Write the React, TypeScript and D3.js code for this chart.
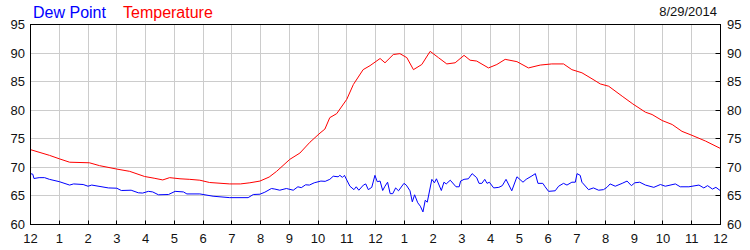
import React from "react";
import * as d3 from "d3";

const tempHours = [0, 0.33, 0.66, 1.0, 1.36, 2.05, 2.4, 3.0, 3.45, 3.97, 4.3, 4.6, 4.84, 5.2, 5.54, 5.89, 6.23, 6.93, 7.3, 7.63, 7.98, 8.3, 8.56, 9.02, 9.37, 9.72, 10.07, 10.24, 10.41, 10.65, 11.0, 11.23, 11.57, 11.81, 12.16, 12.33, 12.62, 12.85, 13.09, 13.32, 13.61, 13.9, 14.19, 14.48, 14.77, 15.08, 15.29, 15.52, 15.93, 16.22, 16.51, 16.92, 17.32, 17.73, 18.13, 18.54, 18.83, 19.18, 19.53, 19.82, 20.11, 20.58, 20.95, 21.39, 21.62, 21.97, 22.32, 22.66, 23.01, 23.48, 24];
const tempValues = [73.1, 72.6, 72.1, 71.5, 70.9, 70.8, 70.3, 69.7, 69.3, 68.4, 68.1, 67.8, 68.2, 68.0, 67.9, 67.75, 67.35, 67.1, 67.1, 67.3, 67.6, 68.3, 69.3, 71.4, 72.5, 74.4, 76.0, 76.7, 78.7, 79.4, 81.9, 84.5, 87.1, 87.8, 89.05, 88.3, 89.75, 89.9, 89.2, 87.1, 88.0, 90.3, 89.2, 88.1, 88.3, 89.6, 88.75, 88.6, 87.4, 88.0, 88.9, 88.5, 87.4, 87.9, 88.1, 88.1, 87.1, 86.55, 85.5, 84.6, 84.2, 82.45, 81.1, 79.65, 79.25, 78.2, 77.5, 76.3, 75.6, 74.6, 73.3];

const dewHours = [0, 0.08, 0.12, 0.3, 0.49, 0.66, 1.0, 1.36, 1.5, 1.83, 2.0, 2.13, 2.71, 3.0, 3.16, 3.5, 3.75, 3.9, 4.1, 4.25, 4.45, 4.8, 5.03, 5.32, 5.44, 5.89, 6.35, 6.93, 7.57, 7.75, 7.98, 8.15, 8.38, 8.5, 8.67, 8.9, 9.14, 9.3, 9.42, 9.57, 9.7, 9.87, 10.1, 10.25, 10.41, 10.53, 10.7, 10.76, 10.85, 10.92, 11.11, 11.25, 11.33, 11.42, 11.58, 11.66, 11.75, 11.87, 11.98, 12.06, 12.16, 12.25, 12.33, 12.42, 12.51, 12.6, 12.7, 12.8, 12.99, 13.07, 13.2, 13.28, 13.36, 13.47, 13.56, 13.65, 13.73, 13.8, 13.96, 14.05, 14.12, 14.29, 14.38, 14.46, 14.6, 14.8, 14.91, 14.96, 15.08, 15.23, 15.36, 15.52, 15.6, 15.7, 15.8, 15.88, 15.96, 16.11, 16.29, 16.41, 16.54, 16.74, 16.92, 17.13, 17.24, 17.44, 17.56, 17.65, 17.82, 17.9, 18.02, 18.25, 18.37, 18.54, 18.66, 18.83, 18.95, 19.01, 19.12, 19.18, 19.41, 19.58, 19.76, 19.93, 20.05, 20.16, 20.34, 20.58, 20.75, 20.9, 21.02, 21.19, 21.39, 21.68, 21.91, 22.08, 22.43, 22.6, 22.9, 23.25, 23.42, 23.55, 23.72, 23.84, 24];
const dewValues = [68.9, 68.8, 68.05, 68.2, 68.2, 67.9, 67.5, 66.9, 67.1, 67.0, 66.7, 66.9, 66.4, 66.35, 65.95, 66.0, 65.55, 65.5, 65.8, 65.7, 65.2, 65.25, 65.8, 65.7, 65.35, 65.35, 64.95, 64.7, 64.7, 65.25, 65.3, 65.65, 66.3, 66.2, 66.0, 66.3, 66.0, 66.6, 66.45, 66.95, 66.9, 67.3, 67.6, 67.55, 67.9, 68.45, 68.35, 68.6, 68.25, 68.6, 66.7, 66.1, 66.6, 66.0, 66.9, 67.1, 66.1, 66.5, 68.6, 67.5, 67.6, 65.95, 66.7, 67.4, 65.4, 65.4, 66.4, 65.9, 67.2, 66.9, 65.9, 63.97, 65.2, 63.8, 63.2, 62.2, 64.25, 63.9, 67.9, 67.3, 68.0, 65.95, 67.4, 67.1, 67.75, 66.6, 66.6, 67.6, 67.9, 68.0, 68.9, 68.2, 67.2, 67.2, 67.9, 67.2, 67.4, 66.4, 66.5, 66.8, 67.9, 65.9, 68.35, 67.4, 67.9, 68.5, 68.9, 67.2, 67.2, 66.6, 65.8, 65.9, 66.7, 67.2, 66.9, 67.4, 67.4, 68.9, 68.6, 67.4, 66.1, 66.4, 66.0, 66.1, 66.5, 67.1, 66.7, 67.2, 67.6, 66.8, 67.3, 67.4, 66.9, 66.5, 67.0, 66.7, 67.1, 66.6, 66.6, 66.9, 66.4, 66.8, 66.2, 66.5, 65.9];

const hourTicks = [0, 1, 2, 3, 4, 5, 6, 7, 8, 9, 10, 11, 12, 13, 14, 15, 16, 17, 18, 19, 20, 21, 22, 23, 24];
const hourLabels = ["12", "1", "2", "3", "4", "5", "6", "7", "8", "9", "10", "11", "12", "1", "2", "3", "4", "5", "6", "7", "8", "9", "10", "11", "12"];
const tempTicks = [60, 65, 70, 75, 80, 85, 90, 95];
const seriesNames = ["Dew Point", "Temperature"];
const dateLabel = "8/29/2014";

const W = 750;
const H = 250;
const L = 30.5;
const R = 720.5;
const T = 24.5;
const B = 224.5;
const FONT = "Arial, 'Liberation Sans', sans-serif";

export default function App() {
  const x = d3.scaleLinear().domain([0, 24]).range([L, R]);
  const y = d3.scaleLinear().domain([60, 95]).range([B, T]);
  const px = (v: number) => Math.round(x(v) - 0.5) + 0.5;
  const py = (v: number) => Math.round(y(v) - 0.5) + 0.5;

  const line = d3
    .line<[number, number]>()
    .x((d) => x(d[0]))
    .y((d) => y(d[1]));

  const tempPts = tempHours.map((h, i) => [h, tempValues[i]] as [number, number]);
  const dewPts = dewHours.map((h, i) => [h, dewValues[i]] as [number, number]);

  return (
    <svg width={W} height={H} style={{ position: "absolute", left: 0, top: 0, background: "#fff" }} fontFamily={FONT}>
      <rect x={0} y={0} width={W} height={H} fill="#fff" />
      {/* grid */}
      {hourTicks.slice(1, -1).map((h) => (
        <line key={"gx" + h} x1={px(h)} x2={px(h)} y1={T} y2={B} stroke="#cccccc" strokeWidth={1} />
      ))}
      {tempTicks.slice(1, -1).map((t) => (
        <line key={"gy" + t} x1={L} x2={R} y1={py(t)} y2={py(t)} stroke="#cccccc" strokeWidth={1} />
      ))}
      {/* ticks */}
      {hourTicks.map((h) => (
        <line key={"tx" + h} x1={px(h)} x2={px(h)} y1={B} y2={B - 4} stroke="#000" strokeWidth={1} />
      ))}
      {tempTicks.map((t) => (
        <line key={"ty" + t} x1={R} x2={R - 5} y1={py(t)} y2={py(t)} stroke="#000" strokeWidth={1} />
      ))}
      {/* series */}
      <path d={line(dewPts) || ""} fill="none" stroke="#0000ff" strokeWidth={1} />
      <path d={line(tempPts) || ""} fill="none" stroke="#ff0000" strokeWidth={1} />
      {/* frame */}
      <rect x={L} y={T} width={R - L} height={B - T} fill="none" stroke="#000" strokeWidth={1} />
      {/* y labels */}
      {tempTicks.map((t) => (
        <text key={"ly" + t} x={25} y={y(t)} dy="0.35em" textAnchor="end" fontSize={13} fill="#111">
          {t}
        </text>
      ))}
      {tempTicks.map((t) => (
        <text key={"ry" + t} x={727} y={y(t)} dy="0.35em" textAnchor="start" fontSize={13} fill="#111">
          {t}
        </text>
      ))}
      {/* x labels */}
      {hourTicks.map((h, i) => (
        <text key={"lx" + h} x={x(h)} y={243} textAnchor="middle" fontSize={13} fill="#111">
          {hourLabels[i]}
        </text>
      ))}
      {/* legend */}
      <text x={33} y={18} fontSize={16} fill="#0000ff">{seriesNames[0]}</text>
      <text x={123} y={18} fontSize={16} fill="#ff0000">{seriesNames[1]}</text>
      <text x={717} y={16} textAnchor="end" fontSize={13} fill="#111">{dateLabel}</text>
    </svg>
  );
}
